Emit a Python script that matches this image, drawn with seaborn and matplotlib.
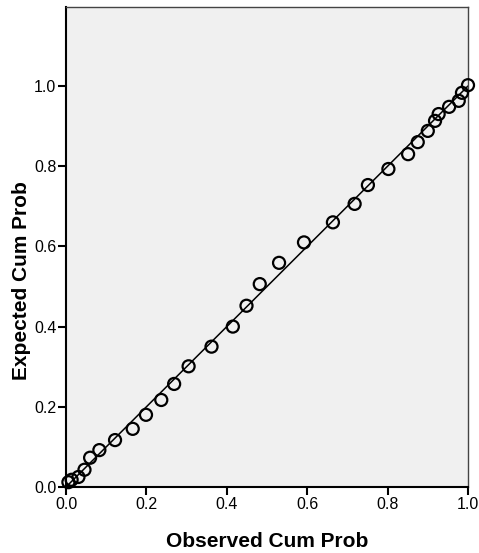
import matplotlib
matplotlib.use('Agg')
import matplotlib.pyplot as plt
import seaborn as sns
import pandas as pd

# Normal P-P plot values
observed = [0.006, 0.014, 0.031, 0.046, 0.060, 0.083, 0.122, 0.166, 0.199, 0.237,
            0.269, 0.305, 0.362, 0.415, 0.449, 0.482, 0.530, 0.592, 0.664, 0.718,
            0.751, 0.802, 0.851, 0.875, 0.900, 0.918, 0.927, 0.953, 0.977, 0.985, 1.000]
expected = [0.012, 0.018, 0.025, 0.043, 0.073, 0.092, 0.117, 0.145, 0.180, 0.217,
            0.257, 0.301, 0.350, 0.400, 0.452, 0.506, 0.559, 0.610, 0.660, 0.706,
            0.753, 0.793, 0.830, 0.860, 0.888, 0.913, 0.930, 0.948, 0.963, 0.983, 1.002]
ref_line = [0.0, 1.0]
ticks = [0.0, 0.2, 0.4, 0.6, 0.8, 1.0]

sns.set_style('white')
plt.rcParams['font.family'] = ['Liberation Sans', 'DejaVu Sans']
plt.rcParams['text.color'] = 'black'
plt.rcParams['axes.labelcolor'] = 'black'
plt.rcParams['xtick.color'] = 'black'
plt.rcParams['ytick.color'] = 'black'

df = pd.DataFrame({'obs': observed, 'exp': expected})

fig = plt.figure(figsize=(4.79, 5.53), dpi=100)
ax = fig.add_axes([66 / 479, 66 / 553, 402 / 479, 480 / 553])
ax.set_facecolor('#f0f0f0')

sns.lineplot(x=ref_line, y=ref_line, color='black', linewidth=1.1, ax=ax)
sns.scatterplot(data=df, x='obs', y='exp', marker='o', s=75,
                facecolors='none', edgecolor='black', linewidth=1.6, ax=ax,
                zorder=3, clip_on=False)

ax.set_xlim(0, 1.0)
ax.set_ylim(0, 1.197)
ax.set_xticks(ticks)
ax.set_yticks(ticks)
ax.set_xticklabels([f'{t:.1f}' for t in ticks], fontsize=11.5)
ax.set_yticklabels([f'{t:.1f}' for t in ticks], fontsize=11.5)
ax.tick_params(direction='out', length=6, width=1.5, color='black', pad=1,
               bottom=True, left=True)

for side in ['left', 'bottom']:
    ax.spines[side].set_color('black')
    ax.spines[side].set_linewidth(1.5)
for side in ['top', 'right']:
    ax.spines[side].set_color('#444444')
    ax.spines[side].set_linewidth(1.0)

ax.set_xlabel('Observed Cum Prob', fontsize=15, fontweight='bold')
ax.set_ylabel('Expected Cum Prob', fontsize=15, fontweight='bold')
ax.xaxis.set_label_coords(0.5, -0.093)
ax.yaxis.set_label_coords(-0.088, 0.43)

fig.savefig('out.png', dpi=100)
plt.close(fig)
